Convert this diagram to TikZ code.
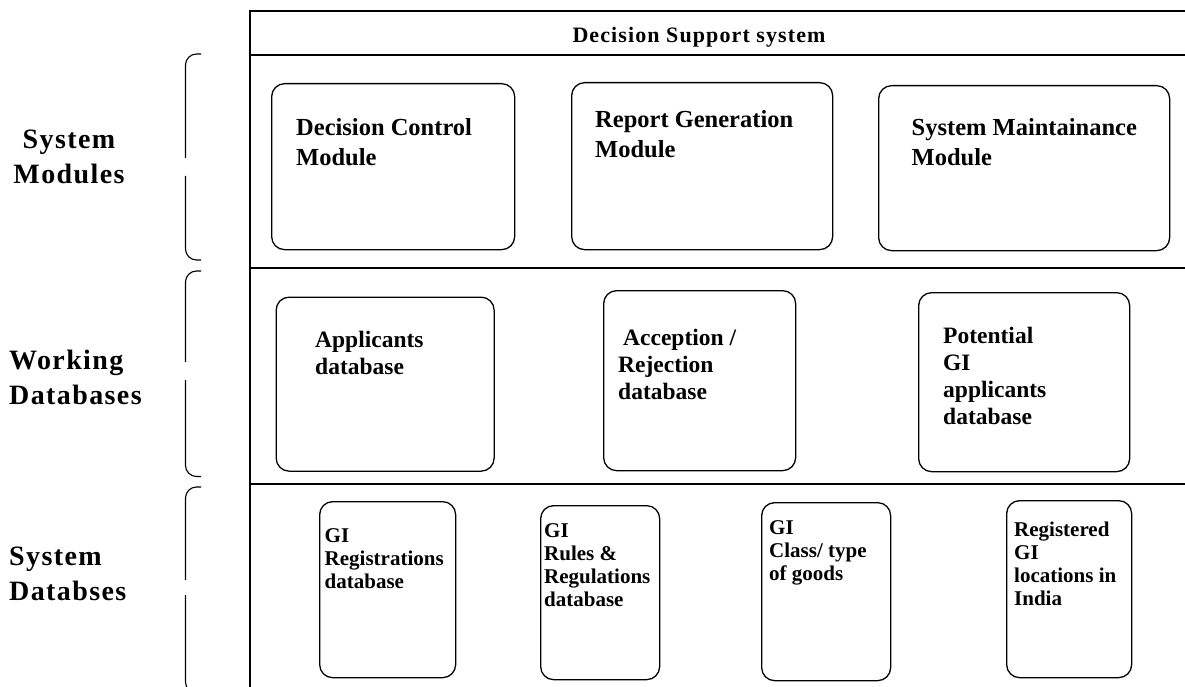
\documentclass[tikz,border=0pt]{standalone}
\usepackage{fontspec}
\setmainfont{Liberation Serif}
\newfontfamily\spacedfont[LetterSpace=5]{Liberation Serif}
\usetikzlibrary{positioning}

\begin{document}
\begin{tikzpicture}[x=1pt,y=-1pt,
    box/.style={draw, rounded corners=13pt, line width=1.3pt, inner sep=0pt, anchor=north west},
    modtext/.style={inner sep=0pt, align=left, font=\bfseries\fontsize{24.5}{30}\selectfont},
    worktext/.style={inner sep=0pt, align=left, font=\bfseries\fontsize{23.5}{27}\selectfont},
    systext/.style={inner sep=0pt, align=left, font=\bfseries\fontsize{21}{23}\selectfont},
    sidelabel/.style={inner sep=0pt, font=\spacedfont\bfseries\fontsize{28}{34.5}\selectfont},
    frame/.style={line width=1.4pt},
    brace/.style={line width=1.1pt, rounded corners=11pt}]
  \useasboundingbox (0,0) rectangle (1185,687);
  \clip (0,0) rectangle (1185,687);

  % outer frame and layer separators
  \draw[frame] (1185,11) -- (250,11) -- (250,690);
  \draw[line width=2.6pt] (250,55) -- (1185,55);
  \draw[frame] (250,268) -- (1185,268);
  \draw[frame] (250,484) -- (1185,484);
  \node[anchor=base, font=\spacedfont\bfseries\fontsize{22}{26}\selectfont] (title) at (699,43) {Decision Support system};

  % side brackets
  \draw[brace] (201,54) -- (185.5,54) -- (185.5,158);
  \draw[brace] (185.5,176) -- (185.5,260) -- (201,260);
  \draw[brace] (201,271) -- (185.5,271) -- (185.5,362);
  \draw[brace] (185.5,380) -- (185.5,476.5) -- (201,476.5);
  \draw[brace] (201,487) -- (185.5,487) -- (185.5,580);
  \draw[brace] (185.5,595) -- (185.5,693) -- (201,693);

  \node[sidelabel, align=center, anchor=north] (sysmod) at (69,130) {System\\Modules};
  \node[sidelabel, align=left, anchor=north west] (workdb) at (9,350) {Working\\Databases};
  \node[sidelabel, align=left, anchor=north west] (sysdb) at (9,547) {System\\Databses};

  % system modules
  \node[box, minimum width=243pt, minimum height=166pt] (dcm) at (271,83) {};
  \node[box, minimum width=261pt, minimum height=167pt] (rgm) at (571,82) {};
  \node[box, minimum width=291pt, minimum height=165pt] (smm) at (878,85) {};
  \node[modtext, below right=35.5pt and 25pt of dcm.north west] (dcmtext) {Decision Control\\Module};
  \node[modtext, below right=28.5pt and 24pt of rgm.north west] (rgmtext) {Report Generation\\Module};
  \node[modtext, below right=33.5pt and 33.5pt of smm.north west] (smmtext) {System Maintainance\\Module};

  % working databases
  \node[box, minimum width=218pt, minimum height=174pt] (appdb) at (275.5,296.5) {};
  \node[box, minimum width=192pt, minimum height=180pt] (accdb) at (603,290) {};
  \node[box, minimum width=211pt, minimum height=179pt] (potdb) at (918,292) {};
  \node[worktext, below right=34pt and 39.5pt of appdb.north west] (apptext) {Applicants\\database};
  \node[worktext, below right=39pt and 15pt of accdb.north west] (acctext) {\hspace{5pt}Acception /\\Rejection\\database};
  \node[worktext, below right=35pt and 25pt of potdb.north west] (pottext) {Potential\\GI\\applicants\\database};

  % system databases
  \node[box, minimum width=136pt, minimum height=176pt] (regdb) at (319,501) {};
  \node[box, minimum width=119pt, minimum height=174pt] (rulesdb) at (540,505) {};
  \node[box, minimum width=129pt, minimum height=178pt] (classdb) at (761,502) {};
  \node[box, minimum width=125pt, minimum height=177pt] (locdb) at (1006,500) {};
  \node[systext, below right=27pt and 5.5pt of regdb.north west] (regtext) {GI\\Registrations\\database};
  \node[systext, below right=18pt and 4pt of rulesdb.north west] (rulestext) {GI\\Rules \&\\Regulations\\database};
  \node[systext, below right=18pt and 8pt of classdb.north west] (classtext) {GI\\Class/ type\\of goods};
  \node[systext, below right=22pt and 8pt of locdb.north west] (loctext) {Registered\\GI\\locations in\\India};
\end{tikzpicture}
\end{document}
